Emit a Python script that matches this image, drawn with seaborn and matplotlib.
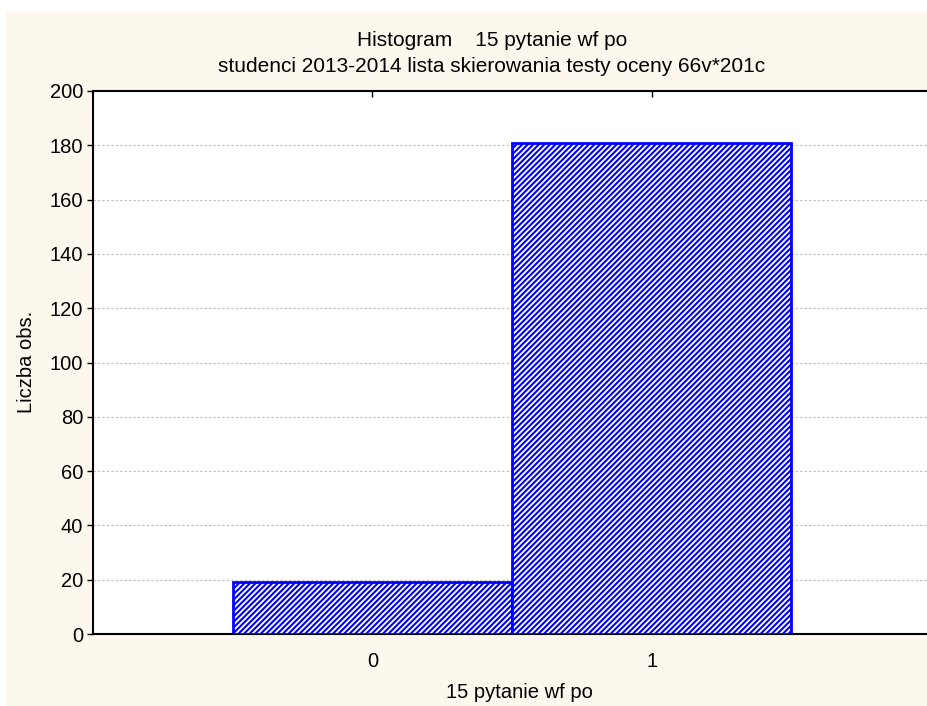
import numpy as np
import pandas as pd
import matplotlib
matplotlib.use('Agg')
import matplotlib.pyplot as plt
import seaborn as sns
from matplotlib.patches import Rectangle

# data
categories = ['0', '1']
counts = [19, 181]
yticks = [0, 20, 40, 60, 80, 100, 120, 140, 160, 180, 200]

sns.set_style('white')
plt.rcParams['font.family'] = ['Liberation Sans', 'DejaVu Sans']
plt.rcParams['hatch.linewidth'] = 1.5
plt.rcParams['text.color'] = 'black'

W, H = 928, 706
fig = plt.figure(figsize=(W / 100, H / 100), dpi=100, facecolor='white')
# cream background panel
fig.patches.append(Rectangle((6 / W, 0), 922 / W, 694 / H,
                             transform=fig.transFigure, facecolor='#FDF8EE',
                             edgecolor='none', zorder=-10))
ax = fig.add_axes([93 / W, 72 / H, 838 / W, 543 / H])
ax.set_facecolor('white')

df = pd.DataFrame({'x': categories, 'count': counts})
sns.barplot(data=df, x='x', y='count', width=1.0, color='white',
            edgecolor='#0000FF', linewidth=2, ax=ax, zorder=3)
for p in ax.patches:
    p.set_hatch('//////')
    p.set_facecolor('white')
    p.set_edgecolor('#0000FF')

ax.set_xlim(-1, 2)
ax.set_ylim(0, 200)
ax.set_yticks(yticks)
ax.yaxis.grid(True, linestyle=(0, (2, 2)), color='#BBBBBB', linewidth=0.8)
ax.set_axisbelow(True)

for s in ['top', 'left', 'bottom', 'right']:
    ax.spines[s].set_color('black')
    ax.spines[s].set_linewidth(1.5)

ax.tick_params(axis='y', direction='out', length=4, width=1, left=True,
               labelsize=14.5, pad=3, colors='black')
ax.tick_params(axis='x', direction='in', length=4, width=1, bottom=True,
               top=True, labelsize=14.5, pad=13, colors='black')

ax.set_xlabel('')
ax.set_ylabel('')
fig.text(519 / W, 1 - 693 / H, '15 pytanie wf po', fontsize=14.5,
         ha='center', va='center', color='black')
fig.text(27 / W, 1 - 362 / H, 'Liczba obs.', fontsize=14.5,
         ha='center', va='center', rotation=90, color='black')
fig.text(492 / W, 1 - 41 / H, 'Histogram    15 pytanie wf po', fontsize=15,
         ha='center', va='center', color='black')
fig.text(492 / W, 1 - 67 / H,
         'studenci 2013-2014 lista skierowania testy oceny 66v*201c',
         fontsize=15, ha='center', va='center', color='black')

fig.savefig('out.png', dpi=100, facecolor=fig.get_facecolor())
